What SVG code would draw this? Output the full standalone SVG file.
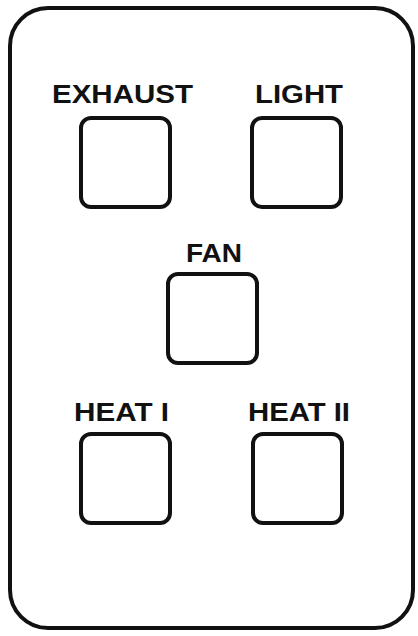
<svg xmlns="http://www.w3.org/2000/svg" width="418" height="636" viewBox="0 0 418 636">
<style>
.body{fill:#fff;stroke:#111;stroke-width:4}
.btn{fill:#fff;stroke:#111;stroke-width:4}
.lbl{font-family:"Liberation Sans",Arial,sans-serif;font-weight:bold;font-size:26px;fill:#111;text-anchor:middle}
</style>
<rect width="418" height="636" fill="#fff"/>
<rect class="body" x="10" y="8" width="403" height="620" rx="38" ry="38"/>
<g id="exhaust">
<text class="lbl" x="122.5" y="103" textLength="141" lengthAdjust="spacingAndGlyphs">EXHAUST</text>
<rect class="btn" x="81" y="118" width="89" height="89" rx="10"/>
</g>
<g id="light">
<text class="lbl" x="299" y="103" textLength="88" lengthAdjust="spacingAndGlyphs">LIGHT</text>
<rect class="btn" x="252" y="118" width="89" height="89" rx="10"/>
</g>
<g id="fan">
<text class="lbl" x="214" y="262" textLength="56" lengthAdjust="spacingAndGlyphs">FAN</text>
<rect class="btn" x="168" y="274" width="89" height="89" rx="10"/>
</g>
<g id="heat1">
<text class="lbl" x="121.5" y="421" textLength="95" lengthAdjust="spacingAndGlyphs">HEAT I</text>
<rect class="btn" x="81" y="434" width="89" height="89" rx="10"/>
</g>
<g id="heat2">
<text class="lbl" x="299" y="421" textLength="102" lengthAdjust="spacingAndGlyphs">HEAT II</text>
<rect class="btn" x="253" y="434" width="89" height="89" rx="10"/>
</g>
<g id="connectors"/>
</svg>
